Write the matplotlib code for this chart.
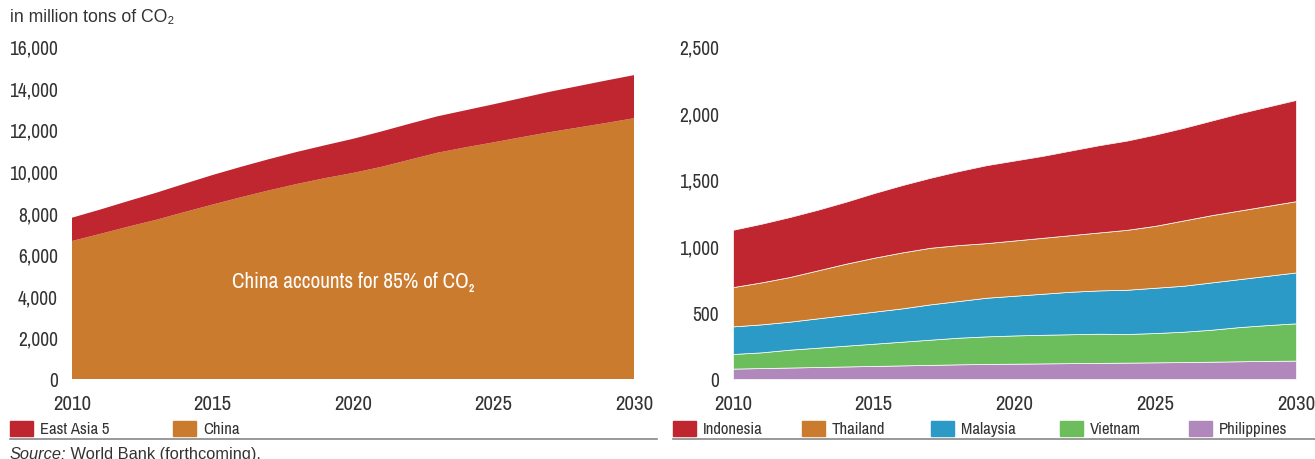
import matplotlib.pyplot as plt
from matplotlib import font_manager as fm
from matplotlib.patches import Rectangle
from matplotlib.lines import Line2D
from matplotlib.ticker import FuncFormatter, MultipleLocator

# data (million tons of CO2)
years = list(range(2010, 2031))

china = [6630, 6970, 7320, 7650, 8020, 8380, 8730, 9060, 9370, 9650, 9900,
         10190, 10530, 10870, 11130, 11370, 11620, 11860, 12080, 12300, 12530]
east_asia5 = [1120, 1170, 1230, 1300, 1360, 1420, 1460, 1500, 1540, 1580, 1640,
              1700, 1730, 1750, 1780, 1830, 1880, 1940, 1990, 2040, 2070]

philippines = [78, 82, 86, 90, 94, 98, 102, 106, 110, 113, 115,
               117, 119, 121, 123, 125, 127, 130, 133, 136, 138]
vietnam = [110, 118, 134, 145, 156, 167, 178, 189, 200, 207, 212,
           215, 217, 219, 215, 220, 228, 240, 257, 269, 280]
malaysia = [207, 210, 210, 220, 230, 240, 250, 265, 275, 290, 298,
            308, 319, 325, 332, 340, 345, 355, 360, 370, 382]
thailand = [295, 315, 335, 360, 385, 405, 420, 425, 420, 410, 415,
            420, 425, 435, 450, 465, 490, 505, 515, 525, 535]
indonesia = [430, 440, 450, 455, 465, 485, 505, 525, 555, 585, 600,
             615, 635, 655, 670, 685, 695, 710, 730, 745, 760]

left_labels = ['East Asia 5', 'China']
right_labels = ['Indonesia', 'Thailand', 'Malaysia', 'Vietnam', 'Philippines']

RED = '#C02630'
ORANGE = '#CB7B2D'
BLUE = '#2C9AC7'
GREEN = '#6CBE5C'
PURPLE = '#B088BC'
TXT = '#333333'

# look for a narrow font, the original uses a condensed face
narrow = None
stretch = 'normal'
for f in fm.fontManager.ttflist:
    if f.style != 'normal':
        continue
    if 'Narrow' in f.name or 'Condensed' in f.name:
        narrow = f.name
        break
if narrow is None:
    for f in fm.fontManager.ttflist:
        if f.name == 'DejaVu Sans' and f.stretch in ('condensed', 'semi-condensed', 600, 500):
            narrow, stretch = 'DejaVu Sans', 'condensed'
            break
if narrow is None:
    narrow = 'Liberation Sans'
scale = 1.0 if narrow != 'Liberation Sans' else 0.9

plt.rcParams['font.family'] = [narrow, 'DejaVu Sans']
plt.rcParams['font.stretch'] = stretch
REG = ['Liberation Sans', 'DejaVu Sans']

W, H = 1315, 460
fig = plt.figure(figsize=(W / 100, H / 100), dpi=100)


def box(x0, y0, x1, y1):
    # pixel box (top-left origin) -> figure fraction
    return [x0 / W, 1 - y1 / H, (x1 - x0) / W, (y1 - y0) / H]


def style(ax, ymax, step):
    ax.set_xlim(2010, 2030)
    ax.set_ylim(0, ymax)
    ax.yaxis.set_major_locator(MultipleLocator(step))
    ax.xaxis.set_major_locator(MultipleLocator(5))
    ax.yaxis.set_major_formatter(FuncFormatter(lambda v, p: f'{v:,.0f}'))
    for s in ax.spines.values():
        s.set_visible(False)
    ax.tick_params(length=0, labelcolor=TXT)
    ax.tick_params(axis='y', pad=10, labelsize=14 * scale)
    ax.tick_params(axis='x', pad=11, labelsize=15 * scale)


# left panel
ax1 = fig.add_axes(box(72, 47, 634, 380))
ax1.stackplot(years, china, east_asia5, colors=[ORANGE, RED], linewidth=0)
style(ax1, 16000, 2000)
ax1.text(2020, 4700, 'China accounts for 85% of CO\u2082', color='white',
         fontsize=15.3 * scale, ha='center', va='center')

# right panel
ax2 = fig.add_axes(box(733, 47, 1296, 380))
ax2.stackplot(years, philippines, vietnam, malaysia, thailand, indonesia,
              colors=[PURPLE, GREEN, BLUE, ORANGE, RED],
              edgecolor='white', linewidth=0.5)
style(ax2, 2500, 500)

# unit label
fig.text(10 / W, 1 - 18 / H, 'in million tons of CO\u2082', fontsize=12.7,
         family=REG, stretch='normal', color=TXT, va='center')


# legends drawn by hand
def legend_row(x0, step, labels, colors):
    for i, (lab, c) in enumerate(zip(labels, colors)):
        x = x0 + i * step
        fig.patches.append(Rectangle((x / W, 1 - 437 / H), 23 / W, 15 / H,
                                     color=c, transform=fig.transFigure))
        fig.text((x + 30) / W, 1 - 430 / H, lab, fontsize=12 * scale,
                 color=TXT, va='center')


legend_row(10, 163, left_labels, [RED, ORANGE])
legend_row(673, 129, right_labels, [RED, ORANGE, BLUE, GREEN, PURPLE])

fig.add_artist(Line2D([10 / W, 657 / W], [1 - 440 / H] * 2, color='#888888',
                      lw=1.2, transform=fig.transFigure))
fig.add_artist(Line2D([673 / W, 1.0], [1 - 440 / H] * 2, color='#888888',
                      lw=1.2, transform=fig.transFigure))

src = fig.text(10 / W, 1 - 459 / H, 'Source:', fontsize=11.8, style='italic',
               family=REG, stretch='normal', color=TXT, va='baseline')
ax1.annotate(' World Bank (forthcoming).', xy=(1, 0), xycoords=src,
             fontsize=11.8, family=REG, stretch='normal', color=TXT,
             va='bottom', ha='left', annotation_clip=False)

fig.savefig('out.png', dpi=100)
